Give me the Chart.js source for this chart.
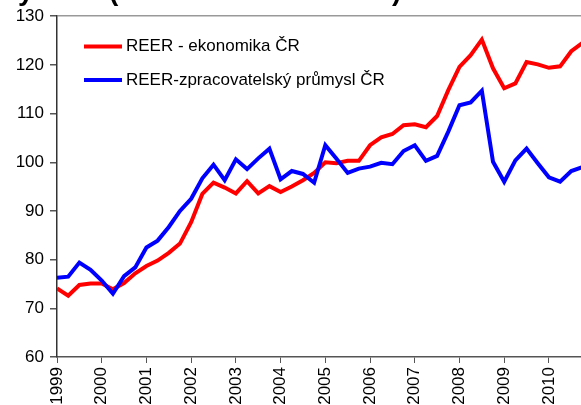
<!DOCTYPE html>
<html>
<head>
<meta charset="utf-8">
<script src="https://cdn.jsdelivr.net/npm/chart.js@4/dist/chart.umd.min.js"></script>
<style>
  html, body { margin: 0; padding: 0; background: #fff; }
  #wrap { width: 581px; height: 405px; }
</style>
</head>
<body>
<div id="wrap"><canvas id="chart" width="581" height="405"></canvas></div>
<script>
// quarterly index, 1999Q1 = 0
const yearLabels = ['1999', '2000', '2001', '2002', '2003', '2004', '2005', '2006', '2007', '2008', '2009', '2010'];
const seriesNames = ['REER - ekonomika ČR', 'REER-zpracovatelský průmysl ČR'];

const reerEkonomika = [
  74.1, 72.6, 74.8, 75.1, 75.1, 73.9, 75.2, 77.2,
  78.7, 79.8, 81.4, 83.3, 87.7, 93.5, 95.8, 94.8,
  93.6, 96.1, 93.6, 95.1, 93.9, 95.0, 96.3, 97.8,
  100.0, 99.8, 100.3, 100.3, 103.5, 105.1, 105.8, 107.6,
  107.8, 107.2, 109.5, 114.8, 119.6, 122.0, 125.2, 119.3,
  115.2, 116.2, 120.6, 120.1, 119.4, 119.7, 122.8, 124.5
];
const reerPrumysl = [
  76.3, 76.5, 79.4, 77.9, 75.7, 73.0, 76.6, 78.4,
  82.5, 83.9, 86.7, 90.0, 92.5, 96.7, 99.5, 96.3,
  100.6, 98.6, 100.8, 102.8, 96.5, 98.2, 97.6, 95.8,
  103.5, 100.7, 97.8, 98.7, 99.1, 99.9, 99.6, 102.3,
  103.5, 100.3, 101.3, 106.3, 111.7, 112.3, 114.7, 100.1,
  96.0, 100.4, 102.8, 99.8, 96.9, 96.0, 98.2, 99.0
];

const toPoints = arr => arr.map((v, i) => ({ x: i, y: v }));
const FONT = '"Liberation Sans", Arial, sans-serif';

// legend inside the plot + cropped title fragments
const overlay = {
  id: 'overlay',
  afterDraw(chart) {
    const c = chart.ctx;
    const items = [
      { color: '#ff0000', y: 46.5 },
      { color: '#0000ff', y: 80 }
    ];
    c.save();
    items.forEach((it, i) => {
      c.strokeStyle = it.color;
      c.lineWidth = 4;
      c.beginPath();
      c.moveTo(84, it.y);
      c.lineTo(122, it.y);
      c.stroke();
      c.fillStyle = '#000';
      c.font = '17px ' + FONT;
      c.textBaseline = 'middle';
      c.textAlign = 'left';
      c.fillText(seriesNames[i], 126, it.y);
    });
    // bottom edges of the title that is cut off above
    c.font = 'bold 28px ' + FONT;
    c.textBaseline = 'alphabetic';
    c.fillText('y', 18, 0);
    c.fillText('(', 109, 0);
    c.fillText(')', 392, 0);
    c.restore();
  }
};

new Chart(document.getElementById('chart'), {
  type: 'line',
  data: {
    datasets: [
      {
        label: seriesNames[0],
        data: toPoints(reerEkonomika),
        borderColor: '#ff0000',
        borderWidth: 4,
        pointRadius: 0,
        tension: 0,
        order: 1
      },
      {
        label: seriesNames[1],
        data: toPoints(reerPrumysl),
        borderColor: '#0000ff',
        borderWidth: 4,
        pointRadius: 0,
        tension: 0,
        order: 0
      }
    ]
  },
  options: {
    responsive: false,
    animation: false,
    layout: { padding: { top: 16, right: 0, left: 0, bottom: 0 } },
    scales: {
      x: {
        type: 'linear',
        min: 0,
        max: 46.87,
        ticks: {
          stepSize: 4,
          autoSkip: false,
          includeBounds: false,
          minRotation: 90,
          maxRotation: 90,
          padding: 4,
          color: '#000',
          font: { family: FONT, size: 17 },
          callback: v => (v % 4 === 0 ? yearLabels[v / 4] : '')
        },
        grid: { drawOnChartArea: false, tickLength: 6, tickColor: '#555' },
        border: { color: '#555', width: 1.5 },
        afterFit(scale) {
          scale.height = 48;
          scale.paddingRight = 0;
          scale.paddingLeft = 0;
        }
      },
      y: {
        min: 60,
        max: 130,
        ticks: {
          stepSize: 10,
          padding: 6,
          color: '#000',
          font: { family: FONT, size: 17 }
        },
        grid: {
          drawOnChartArea: true,
          color: ctx => (ctx.tick && ctx.tick.value === 130 ? '#999' : 'rgba(0,0,0,0)'),
          tickColor: '#555',
          tickLength: 7,
          lineWidth: 1.5
        },
        border: { color: '#333', width: 1.5 },
        afterFit(scale) { scale.width = 57; }
      }
    },
    plugins: {
      legend: { display: false },
      tooltip: { enabled: false }
    }
  },
  plugins: [overlay]
});
</script>
</body>
</html>
